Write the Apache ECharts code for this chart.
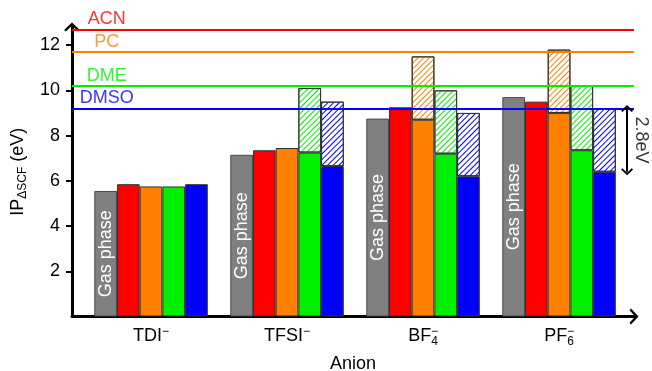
<!DOCTYPE html>
<html>
<head>
<meta charset="utf-8">
<style>
  html, body { margin: 0; padding: 0; background: #fff; }
  #chart { width: 652px; height: 371px; }
</style>
<script src="https://cdn.jsdelivr.net/npm/echarts@6/dist/echarts.min.js"></script>
</head>
<body>
<div id="chart"></div>
<script>
// Anions along the x axis (rich-text labels with sub/superscripts)
const categories = ['TDI', 'TFSI', 'BF4', 'PF6'];
const categoryLabels = ['TDI{sup|−}', 'TFSI{sup|−}', 'BF{sub|4}{supOver|−}', 'PF{sub|6}{supOver|−}'];

// Ionisation potentials (eV): solid part of each bar
const gasPhase = [5.55, 7.15, 8.75, 9.7];
const acn      = [5.85, 7.35, 9.25, 9.5];
const pc       = [5.75, 7.45, 8.7, 9.0];
const dme      = [5.75, 7.25, 7.2, 7.35];
const dmso     = [5.85, 6.65, 6.2, 6.4];

// Upper end of the hatched extension (null = no extension)
const pcUpper   = [null, null, 11.5, 11.8];
const dmeUpper  = [null, 10.1, 10.0, 10.2];
const dmsoUpper = [null, 9.5, 9.0, 9.2];

// Solvent reference levels (eV)
const solventNames  = ['ACN', 'PC', 'DME', 'DMSO'];
const solventLevels = [12.7, 11.7, 10.2, 9.2];

// Y tick labels
const yTicks = [2, 4, 6, 8, 10, 12];

const COLORS = {
  gas: '#808080', acn: '#ff0000', pc: '#ff8000', dme: '#00f000', dmso: '#0000ff'
};
const solventColors = [COLORS.acn, COLORS.pc, COLORS.dme, COLORS.dmso];
const FONT = "'Liberation Sans', Arial, Helvetica, sans-serif";

// Group positions on the x value axis: 1, 2, 3, 4
const groupPos = categories.map((_, i) => i + 1);

// Open chevrons used for arrow heads
const CHEVRON = 'path://M8,0 L16,7.5 L14.2,9 L8,3.2 L1.8,9 L0,7.5 Z';
const SMALL_CHEVRON = 'path://M6,0 L12,6 L10.6,7.2 L6,2.6 L1.4,7.2 L0,6 Z';

const BAR_W = 22.7;
const border = { borderColor: '#333', borderWidth: 1 };

// Rows are [value, position] so that the stack accumulates along y
function rows(values) {
  return values.map((v, i) => [v, groupPos[i]]);
}

function solid(name, values, color, stack, extra) {
  return Object.assign({
    name: name,
    type: 'bar',
    stack: stack,
    barWidth: BAR_W,
    barGap: '0%',
    z: 3,
    encode: { x: 1, y: 0 },
    itemStyle: Object.assign({ color: color }, border),
    data: rows(values)
  }, extra || {});
}

function hatched(name, base, upper, color, stack) {
  const ext = upper.map((u, i) => (u == null ? null : +(u - base[i]).toFixed(3)));
  return {
    name: name,
    type: 'bar',
    stack: stack,
    barWidth: BAR_W,
    barGap: '0%',
    z: 3,
    encode: { x: 1, y: 0 },
    itemStyle: Object.assign({
      color: 'rgba(255,255,255,0)',
      decal: {
        symbol: 'rect',
        symbolSize: 1,
        color: color,
        backgroundColor: 'rgba(255,255,255,0)',
        dashArrayX: [1, 0],
        dashArrayY: [1, 3],
        rotation: -Math.PI / 4
      }
    }, border),
    data: rows(ext)
  };
}

const labelX = 0.674;             // horizontal centre of the solvent names
const arrowX = groupPos[3] + 0.5; // double arrow beside the PF6 group

const option = {
  animation: false,
  backgroundColor: '#fff',
  textStyle: { fontFamily: FONT },
  grid: { left: 72, right: 18, top: 27, bottom: 54.5, outerBoundsMode: 'none', containLabel: false },
  xAxis: {
    type: 'value',
    min: 0.419,
    max: 4.551,
    splitLine: { show: false },
    axisTick: { show: false },
    axisLine: {
      show: true, onZero: false,
      lineStyle: { color: '#000', width: 3 },
      symbol: ['none', CHEVRON], symbolSize: [16, 9]
    },
    axisLabel: {
      customValues: groupPos,
      formatter: v => categoryLabels[Math.round(v) - 1],
      color: '#000', fontSize: 18, margin: 9, fontFamily: FONT,
      rich: {
        sup: { fontSize: 12, verticalAlign: 'top', padding: [0, 0, 10, 0], fontFamily: FONT, color: '#000' },
        sub: { fontSize: 12, verticalAlign: 'bottom', padding: [10, 0, 0, 0], fontFamily: FONT, color: '#000' },
        supOver: { fontSize: 12, verticalAlign: 'top', padding: [0, 0, 10, -7], fontFamily: FONT, color: '#000' }
      }
    },
    name: 'Anion',
    nameLocation: 'middle',
    nameGap: 39,
    nameTextStyle: { color: '#000', fontSize: 18, fontFamily: FONT }
  },
  yAxis: {
    type: 'value',
    min: 0,
    max: 12.8,
    interval: 2,
    splitLine: { show: false },
    axisLine: {
      show: true, onZero: false,
      lineStyle: { color: '#000', width: 3 },
      symbol: ['none', CHEVRON], symbolSize: [16, 9]
    },
    axisTick: {
      show: true, inside: false, length: 6,
      customValues: yTicks,
      lineStyle: { color: '#000', width: 2 }
    },
    axisLabel: {
      customValues: yTicks,
      color: '#000', fontSize: 18, margin: 12, fontFamily: FONT
    },
    name: 'IP{sub|ΔSCF} (eV)',
    nameLocation: 'middle',
    nameGap: 32,
    nameTextStyle: {
      color: '#000', fontSize: 18, fontFamily: FONT,
      rich: {
        sub: { fontSize: 12, verticalAlign: 'bottom', padding: [10, 0, 0, 0], color: '#000', fontFamily: FONT }
      }
    }
  },
  series: [
    solid('Gas phase', gasPhase, COLORS.gas, 'gas', {
      itemStyle: { color: COLORS.gas, borderColor: '#4a4a4a', borderWidth: 1 },
      label: {
        show: true, position: 'inside', rotate: 90,
        formatter: 'Gas phase', color: '#fff', fontSize: 18, fontFamily: FONT
      }
    }),
    solid('ACN', acn, COLORS.acn, 'acn'),
    solid('PC', pc, COLORS.pc, 'pc'),
    hatched('PC range', pc, pcUpper, COLORS.pc, 'pc'),
    solid('DME', dme, COLORS.dme, 'dme'),
    hatched('DME range', dme, dmeUpper, COLORS.dme, 'dme'),
    solid('DMSO', dmso, COLORS.dmso, 'dmso'),
    hatched('DMSO range', dmso, dmsoUpper, COLORS.dmso, 'dmso'),

    // Solvent levels: horizontal lines and their names
    {
      name: 'Solvent levels',
      type: 'scatter',
      z: 1,
      symbolSize: 0,
      silent: true,
      data: solventLevels.map((v, i) => ({
        value: [labelX, v],
        label: { color: solventColors[i] }
      })),
      label: {
        show: true,
        position: [0, -1],
        align: 'center',
        verticalAlign: 'bottom',
        fontSize: 18,
        fontFamily: FONT,
        formatter: p => solventNames[p.dataIndex]
      },
      markLine: {
        silent: true,
        symbol: ['none', 'none'],
        label: { show: false },
        emphasis: { disabled: true },
        data: solventLevels.map((v, i) => ({
          yAxis: v,
          lineStyle: { color: solventColors[i], width: 2, type: 'solid' }
        }))
      }
    },

    // Solvation shift of DMSO for PF6: double arrow and its value
    {
      name: 'Shift',
      type: 'scatter',
      z: 4,
      symbolSize: 0,
      silent: true,
      data: [[arrowX, (dmsoUpper[3] + dmso[3]) / 2]],
      label: {
        show: true,
        position: [14, 0],
        align: 'center',
        verticalAlign: 'middle',
        rotate: -90,
        fontSize: 18,
        fontFamily: FONT,
        color: '#000',
        formatter: () => (dmsoUpper[3] - dmso[3]).toFixed(1) + 'eV'
      },
      markLine: {
        silent: true,
        symbol: [SMALL_CHEVRON, SMALL_CHEVRON],
        symbolSize: [12, 7],
        label: { show: false },
        emphasis: { disabled: true },
        lineStyle: { color: '#000', width: 2, type: 'solid' },
        data: [[{ coord: [arrowX, dmsoUpper[3]] }, { coord: [arrowX, dmso[3]] }]]
      }
    }
  ]
};

const chart = echarts.init(document.getElementById('chart'), null, { renderer: 'canvas' });
chart.setOption(option);
</script>
</body>
</html>
